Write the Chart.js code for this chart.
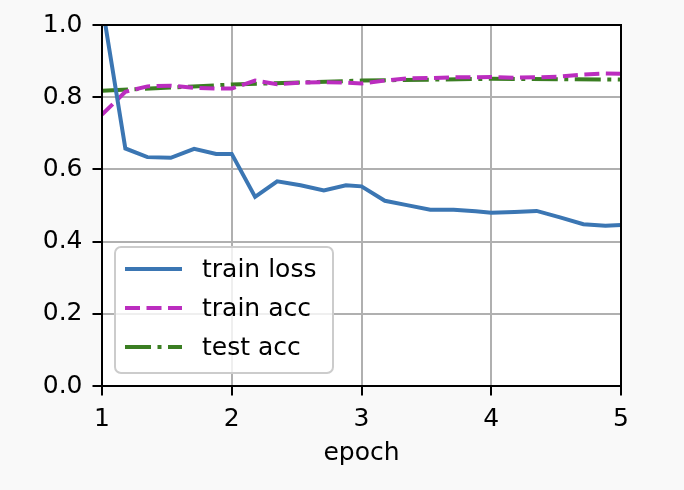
<!DOCTYPE html>
<html>
<head>
<meta charset="utf-8">
<script src="https://cdn.jsdelivr.net/npm/chart.js@4.4.1/dist/chart.umd.min.js"></script>
<style>
  body { margin: 0; background: #f9f9f9; }
  canvas { display: block; }
</style>
</head>
<body>
<canvas id="mychart" width="684" height="490"></canvas>
<script>
// batch-level points (fractions of an epoch)
const lossEpochs = [1.0, 1.18, 1.35, 1.53, 1.71, 1.88, 2.0, 2.18, 2.35, 2.53, 2.71, 2.88, 3.0,
  3.18, 3.35, 3.53, 3.71, 3.88, 4.0, 4.18, 4.35, 4.53, 4.71, 4.88, 5.0];
const trainLoss = [1.058, 0.658, 0.634, 0.632, 0.657, 0.643, 0.643, 0.524, 0.567, 0.556, 0.542, 0.556, 0.553,
  0.513, 0.501, 0.488, 0.488, 0.484, 0.480, 0.482, 0.485, 0.467, 0.448, 0.444, 0.446];
const trainAcc = [0.752, 0.815, 0.830, 0.832, 0.826, 0.824, 0.824, 0.846, 0.836, 0.840, 0.842, 0.840, 0.838,
  0.846, 0.852, 0.853, 0.855, 0.855, 0.856, 0.854, 0.855, 0.857, 0.863, 0.866, 0.865];
// test accuracy only at end of each epoch
const testEpochs = [1, 2, 3, 4, 5];
const testAcc = [0.818, 0.835, 0.846, 0.851, 0.849];
const yTicks = [0, 0.2, 0.4, 0.6, 0.8, 1.0];

const FONT = "'DejaVu Sans', sans-serif";
const FSIZE = 25;

const pts = (xs, ys) => xs.map((x, i) => ({x: x, y: ys[i]}));

const frame = {
  id: 'frame',
  beforeDraw(chart) {
    const c = chart.ctx, a = chart.chartArea;
    c.save();
    c.fillStyle = '#f9f9f9';
    c.fillRect(0, 0, chart.width, chart.height);
    c.fillStyle = '#ffffff';
    c.fillRect(a.left, a.top, a.right - a.left, a.bottom - a.top);
    c.restore();
  },
  afterDatasetsDraw(chart) {
    const c = chart.ctx, a = chart.chartArea;
    c.save();
    c.strokeStyle = '#000';
    c.lineWidth = 2;
    c.strokeRect(a.left, a.top, a.right - a.left, a.bottom - a.top);
    c.restore();
  },
  afterDraw(chart) {
    // matplotlib-like legend in lower left
    const c = chart.ctx, a = chart.chartArea;
    const bx = a.left + 13, by = a.bottom - 139, bw = 218, bh = 126;
    c.save();
    c.beginPath();
    c.roundRect(bx, by, bw, bh, 6);
    c.fillStyle = 'rgba(255,255,255,0.8)';
    c.fill();
    c.strokeStyle = '#cccccc';
    c.lineWidth = 2;
    c.stroke();
    c.font = FSIZE + 'px ' + FONT;
    c.textBaseline = 'middle';
    c.fillStyle = '#000';
    chart.data.datasets.forEach((ds, i) => {
      const y = by + 22 + i * 39;
      c.beginPath();
      c.setLineDash(ds.borderDash || []);
      c.strokeStyle = ds.borderColor;
      c.lineWidth = ds.borderWidth;
      c.moveTo(bx + 10, y);
      c.lineTo(bx + 67, y);
      c.stroke();
      c.setLineDash([]);
      c.fillText(ds.label, bx + 87, y + 1);
    });
    c.restore();
  }
};

new Chart(document.getElementById('mychart'), {
  type: 'line',
  data: {
    datasets: [
      {
        label: 'train loss',
        data: pts(lossEpochs, trainLoss),
        borderColor: '#3b76b3',
        borderWidth: 4,
        pointRadius: 0,
        clip: 0
      },
      {
        label: 'train acc',
        data: pts(lossEpochs, trainAcc),
        borderColor: '#bb2dbf',
        borderWidth: 4,
        borderDash: [15, 6.5],
        pointRadius: 0,
        clip: 0
      },
      {
        label: 'test acc',
        data: pts(testEpochs, testAcc),
        borderColor: '#3a7e22',
        borderWidth: 4,
        borderDash: [26, 6.5, 4, 6.5],
        pointRadius: 0,
        clip: 0
      }
    ]
  },
  options: {
    responsive: false,
    animation: false,
    devicePixelRatio: 1,
    layout: { padding: { left: 0, top: 23, right: 63, bottom: 0 } },
    plugins: {
      legend: { display: false },
      tooltip: { enabled: false }
    },
    scales: {
      x: {
        type: 'linear',
        min: 1,
        max: 5,
        afterFit: s => { s.height = 104; },
        ticks: {
          stepSize: 1,
          color: '#000',
          font: { family: FONT, size: FSIZE },
          padding: 9,
          maxRotation: 0
        },
        grid: { color: '#b0b0b0', lineWidth: 2, tickColor: '#000', tickLength: 9.5, tickWidth: 2 },
        border: { display: false },
        title: {
          display: true,
          text: 'epoch',
          color: '#000',
          font: { family: FONT, size: FSIZE },
          padding: { top: 4, bottom: 22 }
        }
      },
      y: {
        type: 'linear',
        min: 0,
        max: 1,
        afterFit: s => { s.width = 102; },
        afterBuildTicks: s => { s.ticks = yTicks.map(v => ({value: v})); },
        ticks: {
          color: '#000',
          font: { family: FONT, size: FSIZE },
          padding: 10,
          callback: v => v.toFixed(1)
        },
        grid: { color: '#b0b0b0', lineWidth: 2, tickColor: '#000', tickLength: 9.5, tickWidth: 2 },
        border: { display: false }
      }
    }
  },
  plugins: [frame]
});
</script>
</body>
</html>
